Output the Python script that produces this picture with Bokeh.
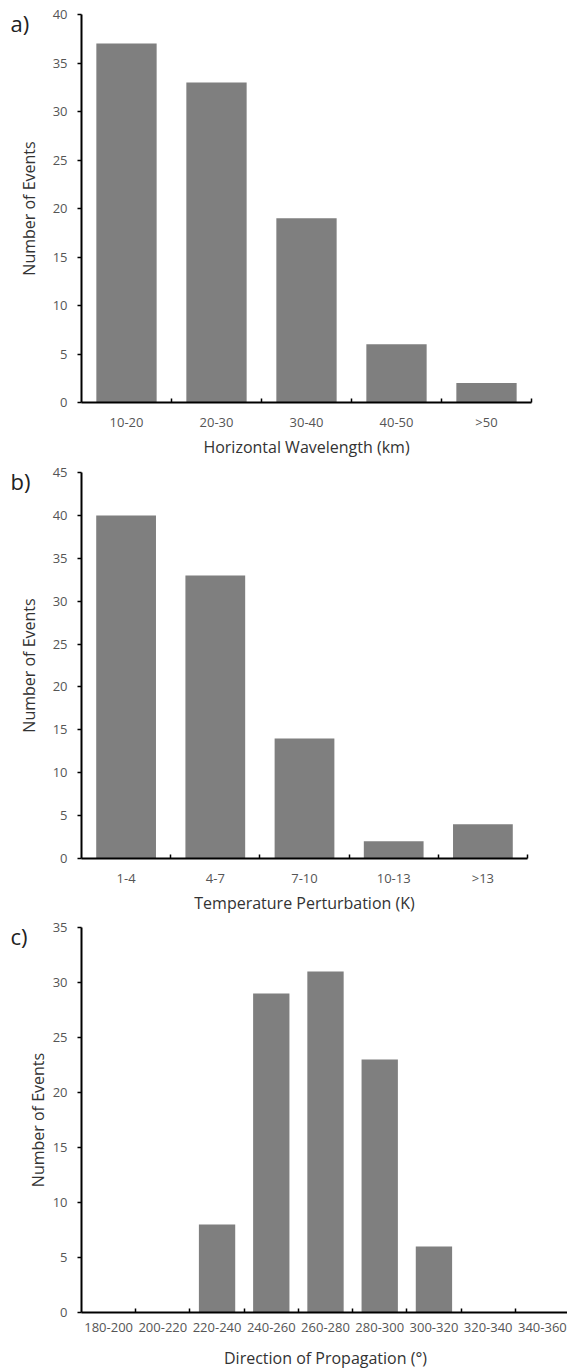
from bokeh.plotting import figure
from bokeh.models import Range1d, FixedTicker, Label
from bokeh.layouts import column
from bokeh.embed import file_html
from bokeh.resources import INLINE

# ---- data ----
wavelength_bins = ["10-20", "20-30", "30-40", "40-50", ">50"]
wavelength_counts = [37, 33, 19, 6, 2]

temperature_bins = ["1-4", "4-7", "7-10", "10-13", ">13"]
temperature_counts = [40, 33, 14, 2, 4]

direction_bins = ["180-200", "200-220", "220-240", "240-260", "260-280",
                  "280-300", "300-320", "320-340", "340-360"]
direction_counts = [0, 0, 8, 29, 31, 23, 6, 0, 0]

y_max = {"a": 40, "b": 45, "c": 35}
y_step = 5

FONT = "Open Sans"
BAR_COLOR = "#7f7f7f"


def make_panel(tag, cats, vals, ymax, xlabel, fw, fh, left, right, top, bottom,
               xlabel_standoff, ylabel_standoff, tag_side):
    n = len(cats)
    centers = [i + 0.5 for i in range(n)]
    p = figure(frame_width=fw, frame_height=fh, output_backend="svg",
               toolbar_location=None, x_range=Range1d(0, n),
               y_range=Range1d(0, ymax),
               min_border_left=left, min_border_right=right,
               min_border_top=top, min_border_bottom=bottom)
    p.outline_line_color = None
    p.grid.visible = False
    p.background_fill_color = "white"
    p.border_fill_color = "white"

    p.vbar(x=centers, top=vals, width=0.67, bottom=0,
           fill_color=BAR_COLOR, line_color=None)

    xa = p.xaxis[0]
    xa.ticker = FixedTicker(ticks=centers, minor_ticks=list(range(1, n + 1)))
    xa.major_label_overrides = {c: lab for c, lab in zip(centers, cats)}
    xa.major_tick_line_color = None
    xa.major_tick_out = 0
    xa.major_tick_in = 0
    xa.minor_tick_line_color = "black"
    xa.minor_tick_line_width = 1.5
    xa.minor_tick_in = 4
    xa.minor_tick_out = 0
    xa.axis_line_color = "black"
    xa.axis_line_width = 2
    xa.major_label_standoff = 10
    xa.major_label_text_font = FONT
    xa.major_label_text_font_size = "13px"
    xa.major_label_text_color = "#555555"
    xa.axis_label = xlabel
    xa.axis_label_text_font = FONT
    xa.axis_label_text_font_size = "16px"
    xa.axis_label_text_font_style = "normal"
    xa.axis_label_text_color = "#333333"
    xa.axis_label_standoff = xlabel_standoff

    ya = p.yaxis[0]
    ya.ticker = FixedTicker(ticks=list(range(0, ymax + 1, y_step)))
    ya.minor_tick_line_color = None
    ya.major_tick_out = 4
    ya.major_tick_in = 0
    ya.major_tick_line_width = 1.5
    ya.axis_line_color = "black"
    ya.axis_line_width = 2
    ya.major_label_standoff = 10
    ya.major_label_text_font = FONT
    ya.major_label_text_font_size = "13px"
    ya.major_label_text_color = "#555555"
    ya.axis_label = "Number of Events"
    ya.axis_label_text_font = FONT
    ya.axis_label_text_font_size = "16px"
    ya.axis_label_text_font_style = "normal"
    ya.axis_label_text_color = "#333333"
    ya.axis_label_standoff = ylabel_standoff

    lab = Label(x=10, x_units="canvas", y=ymax, y_units="data",
                y_offset=-8, text=tag + ")", text_font=FONT,
                text_font_size="22px", text_baseline="middle",
                text_align="left", text_color="#222222")
    p.add_layout(lab, tag_side)
    return p


pa = make_panel("a", wavelength_bins, wavelength_counts, y_max["a"],
                "Horizontal Wavelength (km)", 450, 388, 81, 36, 14, 59, 2,
                10, "right")
pb = make_panel("b", temperature_bins, temperature_counts, y_max["b"],
                "Temperature Perturbation (K)", 446, 386, 81, 40, 11, 59, 2,
                10, "right")
pc = make_panel("c", direction_bins, direction_counts, y_max["c"],
                "Direction of Propagation (°)", 488, 385, 79, 0, 10, 60, 12,
                1, "left")

layout = column(pa, pb, pc, spacing=0)
open("out.html", "w").write(file_html(layout, INLINE))
